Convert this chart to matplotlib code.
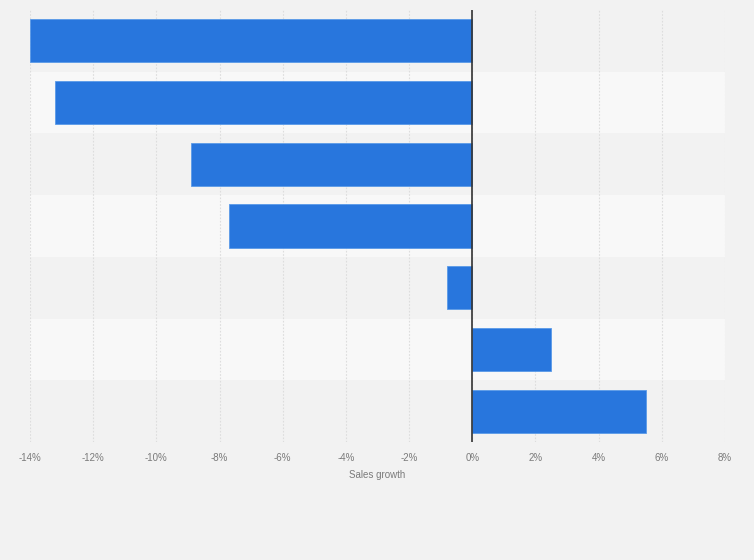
import matplotlib
matplotlib.use("Agg")
import matplotlib.pyplot as plt

plt.rcParams["font.family"] = ["Liberation Sans", "DejaVu Sans"]

categories = ["A", "B", "C", "D", "E", "F", "G"]
values = [-14.0, -13.2, -8.9, -7.7, -0.8, 2.5, 5.5]
ticks = [-14, -12, -10, -8, -6, -4, -2, 0, 2, 4, 6, 8]
tick_labels = [f"{t}%" for t in ticks]

bg = "#f2f2f2"
fig = plt.figure(figsize=(7.54, 5.6), dpi=100, facecolor=bg)
ax = fig.add_axes([30/754, 1-442/560, (725-30)/754, (442-10)/560])
ax.set_facecolor(bg)

n = len(categories)
ypos = list(range(n))
for i in ypos:
    if i % 2 == 1:
        ax.axhspan(i-0.5, i+0.5, color="#f8f8f8", zorder=0, lw=0)

ax.barh(ypos, values, height=0.7, color="#2876dd", edgecolor="#5a9ae8", linewidth=0.6, zorder=3)
ax.axvline(0, color="#333333", lw=1.2, zorder=4)

ax.set_xlim(-14, 8)
ax.set_ylim(n-0.5, -0.5)
ax.set_xticks(ticks)
ax.set_xticklabels(tick_labels, fontsize=7, color="#7a7a7a")
ax.set_yticks([])
ax.xaxis.grid(True, color="#dddddd", ls=(0, (1.5, 1.5)), lw=0.8, zorder=1)
ax.set_axisbelow(True)
ax.tick_params(axis="x", length=0, pad=8)
for s in ax.spines.values():
    s.set_visible(False)
ax.set_xlabel("Sales growth", fontsize=7, color="#7a7a7a", labelpad=5)

fig.savefig("out.png", dpi=100, facecolor=bg)
